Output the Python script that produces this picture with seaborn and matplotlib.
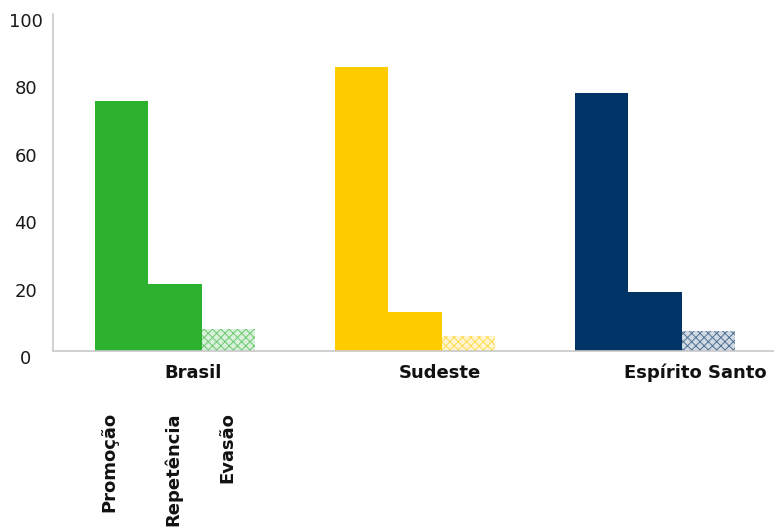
import matplotlib
matplotlib.use("Agg")
import matplotlib.pyplot as plt
import matplotlib.transforms as mtransforms
import matplotlib.colors as mcolors
import numpy as np
import pandas as pd
import seaborn as sns

# Taxas de rendimento escolar (%)
regioes = ["Brasil", "Sudeste", "Espírito Santo"]
indicadores = ["Promoção", "Repetência", "Evasão"]
promocao = [74.2, 84.3, 76.6]
repetencia = [19.9, 11.6, 17.6]
evasao = [6.4, 4.5, 5.9]
cores_regioes = ["#2DB230", "#FFCC00", "#003366"]
yticks = [0, 20, 40, 60, 80, 100]

df = pd.DataFrame({
    "regiao": np.repeat(regioes, 3),
    "indicador": indicadores * 3,
    "taxa": [v for trio in zip(promocao, repetencia, evasao) for v in trio],
})

sns.set_theme(style="white")
plt.rcParams["font.family"] = ["DejaVu Sans"]
plt.rcParams["hatch.linewidth"] = 0.7

fig = plt.figure(figsize=(7.74, 5.31), dpi=100)
ax = fig.add_axes([53 / 774, 1 - 351 / 531, 1 - 53 / 774, (351 - 14) / 531])

sns.barplot(data=df, x="regiao", y="taxa", hue="indicador", order=regioes,
            hue_order=indicadores, width=0.67, gap=0, errorbar=None,
            legend=False, ax=ax)


def clarear(cor, fracao):
    base = np.array(mcolors.to_rgb(cor))
    return tuple(base * (1 - fracao) + fracao)


# Colour each bar by its region; the dropout series gets a light hatched fill
for serie, container in zip(indicadores, ax.containers):
    for cor, barra in zip(cores_regioes, container.patches):
        barra.set_linewidth(0)
        if serie == "Evasão":
            barra.set_facecolor(clarear(cor, 0.82))
            barra.set_edgecolor(clarear(cor, 0.3))
            barra.set_hatch("xxxx")
        else:
            barra.set_facecolor(cor)
            barra.set_edgecolor(cor)

ax.set_xlim(-0.508, 2.496)
ax.set_ylim(0, 100)
ax.set_yticks(yticks)
ax.set_yticklabels([str(t) for t in yticks])
ax.set_xticks([])
ax.set_xlabel("")
ax.set_ylabel("")

for lado in ["top", "right"]:
    ax.spines[lado].set_visible(False)
for lado in ["left", "bottom"]:
    ax.spines[lado].set_color("#c8c8c8")
    ax.spines[lado].set_linewidth(1.2)

ax.tick_params(axis="y", length=0, pad=19.5, labelsize=13, labelcolor="#1a1a1a")
desloc = mtransforms.ScaledTranslation(0, -6 / 100, fig.dpi_scale_trans)
for rotulo in ax.get_yticklabels():
    rotulo.set_horizontalalignment("center")
    rotulo.set_transform(rotulo.get_transform() + desloc)

# Region names under each group
trans = mtransforms.blended_transform_factory(ax.transData, ax.transAxes)
pos_regioes = [0.075, 0.104, 0.167]
for i, (nome, dx) in enumerate(zip(regioes, pos_regioes)):
    ax.text(i + dx, -0.065, nome, transform=trans, ha="center", va="center",
            fontsize=13, fontweight="bold", color="#111111")

# Series names, written vertically below the first group
pos_series = [-0.275, -0.008, 0.217]
for nome, x in zip(indicadores, pos_series):
    ax.text(x, (351 - 412) / 337, nome, transform=trans, rotation=90,
            ha="center", va="top", fontsize=13, fontweight="bold",
            color="#111111")

fig.savefig("out.png", dpi=100)
